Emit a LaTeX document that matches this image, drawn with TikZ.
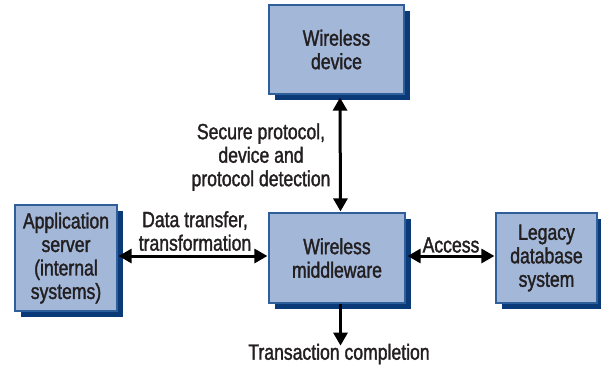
\documentclass[tikz,border=0pt]{standalone}
\usepackage{fontspec}
\setmainfont[FakeStretch=0.8,FakeBold=1.5]{Liberation Sans}
\usetikzlibrary{arrows.meta,shadows}
\definecolor{boxfill}{HTML}{A3B7D9}
\definecolor{boxline}{HTML}{2F5F9A}
\definecolor{boxshadow}{HTML}{0B3A78}
\definecolor{txt}{HTML}{231F20}
\tikzset{
  blk/.style={draw=boxline, line width=1.2pt, fill=boxfill, align=center, text=txt,
    font=\fontsize{22}{23.5}\selectfont, inner sep=0pt,
    drop shadow={shadow xshift=6pt, shadow yshift=-6pt, fill=boxshadow, opacity=1}},
  lbl/.style={align=center, text=txt, font=\fontsize{22}{23.5}\selectfont, inner sep=0pt},
  conn/.style={line width=3pt, -{Triangle[length=13pt,width=14pt]}},
  bconn/.style={line width=3pt, {Triangle[length=13pt,width=14pt]}-{Triangle[length=13pt,width=14pt]}}
}
\begin{document}
\begin{tikzpicture}[x=1pt,y=-1pt]
\useasboundingbox (0,0) rectangle (601,367);
\node[blk, minimum width=135pt, minimum height=89pt] (dev) at (336.5,49.5) {Wireless\\device};
\node[blk, minimum width=136pt, minimum height=90pt] (mw) at (337,258) {Wireless\\middleware};
\node[blk, minimum width=101pt, minimum height=90pt] (leg) at (546.5,258) {Legacy\\database\\system};
\node[blk, minimum width=102pt, minimum height=106pt] (app) at (66,258) {Application\\server\\(internal\\systems)};
\node[lbl] (sec) at (261,157) {Secure protocol,\\device and\\protocol detection};
\node[lbl] (dt) at (195,231) {Data transfer,\\transformation};
\node[lbl] (acc) at (451,245) {Access};
\node[lbl] (tc) at (339,354) {Transaction completion};
\draw[bconn] ([xshift=3.5pt,yshift=-3pt]dev.south) -- ([xshift=3.5pt,yshift=1pt]mw.north);
\draw[bconn] ([xshift=1pt,yshift=2pt]app.east) -- ([xshift=-1pt,yshift=2pt]mw.west);
\draw[bconn] ([xshift=2pt,yshift=2pt]mw.east) -- ([xshift=-1pt,yshift=2pt]leg.west);
\draw[conn] ([xshift=3.5pt,yshift=0pt]mw.south) -- ([xshift=3.5pt,yshift=-42pt]mw.south);
\end{tikzpicture}
\end{document}
